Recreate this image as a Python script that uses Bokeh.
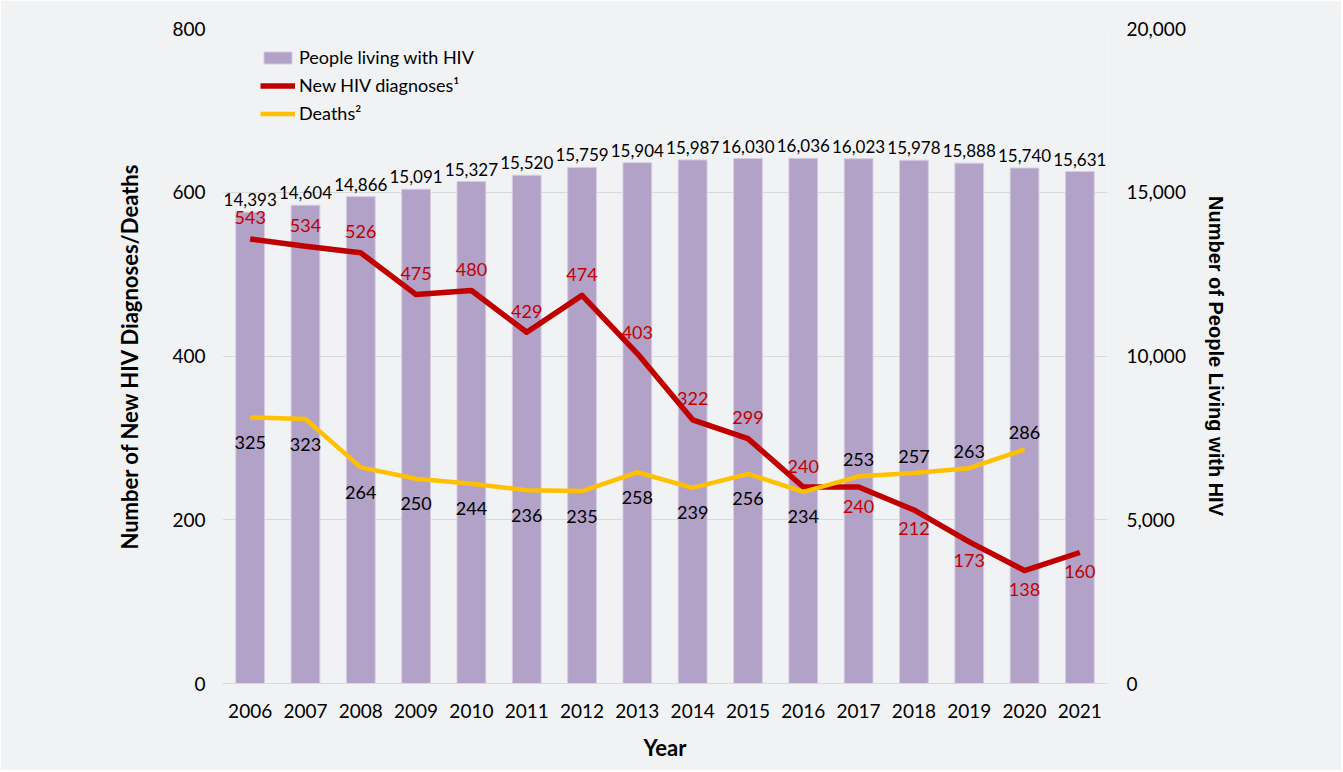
from bokeh.plotting import figure
from bokeh.models import (ColumnDataSource, FactorRange, Range1d, LinearAxis, Legend,
                          LegendItem, FixedTicker, NumeralTickFormatter)
from bokeh.core.properties import value
from bokeh.embed import file_html
from bokeh.resources import INLINE

# ---------------- data ----------------
years = ["2006", "2007", "2008", "2009", "2010", "2011", "2012", "2013",
         "2014", "2015", "2016", "2017", "2018", "2019", "2020", "2021"]
people_living = [14393, 14604, 14866, 15091, 15327, 15520, 15759, 15904,
                 15987, 16030, 16036, 16023, 15978, 15888, 15740, 15631]
new_diagnoses = [543, 534, 526, 475, 480, 429, 474, 403,
                 322, 299, 240, 240, 212, 173, 138, 160]
death_years = ["2006", "2007", "2008", "2009", "2010", "2011", "2012", "2013",
               "2014", "2015", "2016", "2017", "2018", "2019", "2020"]
deaths = [325, 323, 264, 250, 244, 236, 235, 258, 239, 256, 234, 253, 257, 263, 286]
left_ticks = [0, 200, 400, 600, 800]
right_ticks = [0, 5000, 10000, 15000, 20000]

# label side per point (data-label placement as in the original)
new_dx_side = ["above"] * 11 + ["below"] * 5
deaths_side = ["below"] * 11 + ["above"] * 4

# ---------------- style ----------------
BG = "#f1f2f4"
PURPLE = "#b3a2c7"
RED = "#c00000"
GOLD = "#ffc000"
FONT = "Lato"

W, H = 1341, 770
p = figure(width=W, height=H, x_range=FactorRange(factors=years, range_padding=0),
           y_range=Range1d(0, 800), output_backend="svg", toolbar_location=None,
           min_border_left=222, min_border_right=234, min_border_top=28,
           min_border_bottom=87)
p.extra_y_ranges = {"people": Range1d(0, 20000)}
p.background_fill_color = BG
p.border_fill_color = BG
p.outline_line_color = None

# grid
p.xgrid.grid_line_color = None
p.ygrid.ticker = FixedTicker(ticks=left_ticks)
p.ygrid.grid_line_color = "#d9d9d9"
p.ygrid.grid_line_width = 1

# bars
bar_src = ColumnDataSource(dict(year=years, people=people_living,
                                label=[f"{v:,}" for v in people_living]))
bars = p.vbar(x="year", top="people", width=0.52, source=bar_src, y_range_name="people",
              fill_color=PURPLE, line_color="#d6cce3", line_width=1)
p.text(x="year", y="people", text="label", source=bar_src, y_range_name="people",
       text_align="center", text_baseline="bottom", y_offset=-6,
       text_font=value(FONT), text_font_size="17px", text_color="#000000")

# lines
dx_src = ColumnDataSource(dict(year=years, v=new_diagnoses, label=[str(v) for v in new_diagnoses],
                               off=[-21 if s == "above" else 19 for s in new_dx_side]))
de_src = ColumnDataSource(dict(year=death_years, v=deaths, label=[str(v) for v in deaths],
                               off=[-17 if s == "above" else 25 for s in deaths_side]))
dx_line = p.line(x="year", y="v", source=dx_src, line_color=RED, line_width=5.5,
                 line_join="round")
de_line = p.line(x="year", y="v", source=de_src, line_color=GOLD, line_width=4.5,
                 line_join="round")
p.text(x="year", y="v", text="label", source=de_src, y_offset="off",
       text_align="center", text_baseline="middle",
       text_font=value(FONT), text_font_size="18px", text_color="#000000")
p.text(x="year", y="v", text="label", source=dx_src, y_offset="off",
       text_align="center", text_baseline="middle",
       text_font=value(FONT), text_font_size="18px", text_color=RED)

# axes
def style_axis(ax):
    ax.axis_line_color = None
    ax.major_tick_line_color = None
    ax.minor_tick_line_color = None
    ax.major_tick_out = 0
    ax.major_tick_in = 0
    ax.minor_tick_out = 0
    ax.minor_tick_in = 0
    ax.major_label_text_font = FONT
    ax.major_label_text_font_size = "19px"
    ax.major_label_text_color = "#000000"
    ax.axis_label_text_font = FONT
    ax.axis_label_text_font_size = "22px"
    ax.axis_label_text_font_style = "bold"
    ax.axis_label_text_color = "#000000"

xa = p.xaxis[0]
style_axis(xa)
xa.axis_label = "Year"
xa.major_label_standoff = 20
xa.axis_label_standoff = 13
xa.axis_line_color = "#d9d9d9"

ya = p.yaxis[0]
style_axis(ya)
ya.ticker = FixedTicker(ticks=left_ticks)
ya.axis_label = "Number of New HIV Diagnoses/Deaths"
ya.major_label_standoff = 17
ya.axis_label_standoff = 26

ra = LinearAxis(y_range_name="people", ticker=FixedTicker(ticks=right_ticks),
                formatter=NumeralTickFormatter(format="0,0"))
style_axis(ra)
ra.axis_label = "Number of People Living with HIV"
ra.axis_label_text_font = "Liberation Sans"
ra.axis_label_text_font_size = "20px"
ra.major_label_standoff = 19
ra.axis_label_standoff = 16
p.add_layout(ra, "right")

# legend
legend = Legend(items=[
    LegendItem(label="People living with HIV", renderers=[bars]),
    LegendItem(label="New HIV diagnoses\u00b9", renderers=[dx_line]),
    LegendItem(label="Deaths\u00b2", renderers=[de_line]),
], location=(38, 559))
legend.background_fill_alpha = 0
legend.border_line_color = None
legend.padding = 0
legend.margin = 0
legend.spacing = 6
legend.glyph_width = 35
legend.glyph_height = 15
legend.label_height = 20
legend.label_standoff = 4
legend.label_text_font = FONT
legend.label_text_font_size = "18px"
legend.label_text_color = "#000000"
p.add_layout(legend, "center")

open("out.html", "w").write(file_html(p, INLINE))
